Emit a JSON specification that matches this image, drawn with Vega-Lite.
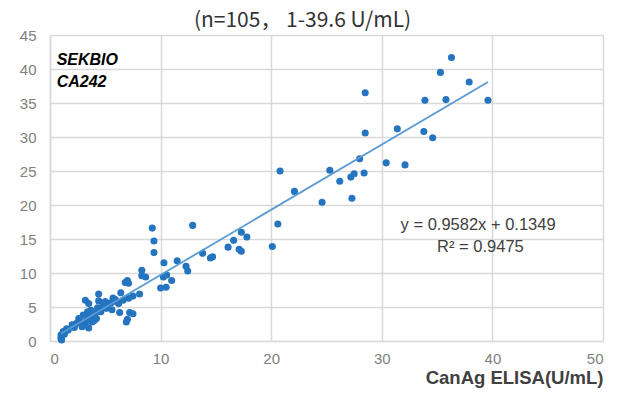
{
  "$schema": "https://vega.github.io/schema/vega-lite/v6.json",
  "width": 553,
  "height": 306,
  "autosize": "none",
  "padding": {"left": 50, "top": 35, "right": 28, "bottom": 65},
  "background": "white",
  "config": {"view": {"stroke": null}},
  "title": {"text": "(n=105， 1-39.6 U/mL)", "font": "Noto Sans CJK SC", "fontSize": 21, "fontWeight": "normal", "color": "#333333", "anchor": "middle", "dx": -24, "offset": -3},
  "datasets": {
    "pts": [
      {"x":36.3,"y":41.7},{"x":35.3,"y":39.5},{"x":37.9,"y":38.1},{"x":28.5,"y":36.5},{"x":33.9,"y":35.4},
      {"x":35.8,"y":35.5},{"x":39.6,"y":35.4},{"x":31.4,"y":31.2},{"x":33.8,"y":30.8},{"x":34.6,"y":29.9},
      {"x":28.5,"y":30.6},{"x":28.0,"y":26.8},{"x":25.3,"y":25.1},{"x":30.4,"y":26.2},{"x":32.1,"y":25.9},
      {"x":26.2,"y":23.5},{"x":27.2,"y":24.1},{"x":27.5,"y":24.6},{"x":28.4,"y":24.7},{"x":27.3,"y":21.0},
      {"x":24.6,"y":20.4},{"x":20.8,"y":25.0},{"x":22.1,"y":22.0},{"x":20.6,"y":17.2},{"x":20.1,"y":13.9},
      {"x":17.3,"y":16.0},{"x":17.8,"y":15.3},{"x":16.6,"y":14.8},{"x":16.1,"y":13.8},{"x":17.1,"y":13.5},
      {"x":17.3,"y":13.2},{"x":13.8,"y":12.9},{"x":14.7,"y":12.4},{"x":14.5,"y":12.2},{"x":9.25,"y":16.6},
      {"x":9.4,"y":14.7},{"x":9.4,"y":13.0},{"x":12.9,"y":17.0},{"x":10.3,"y":11.5},{"x":11.5,"y":11.8},
      {"x":12.3,"y":11.0},{"x":12.45,"y":10.3},{"x":8.3,"y":10.4},{"x":8.3,"y":9.6},{"x":8.65,"y":9.4},
      {"x":10.25,"y":9.4},{"x":10.55,"y":9.7},{"x":11.0,"y":8.9},{"x":10.0,"y":7.8},{"x":10.5,"y":7.9},
      {"x":7.0,"y":8.9},{"x":7.1,"y":8.5},{"x":6.4,"y":7.1},{"x":8.1,"y":6.9},{"x":7.5,"y":6.6},
      {"x":7.1,"y":6.3},{"x":5.7,"y":6.3},{"x":5.5,"y":5.6},{"x":6.3,"y":4.2},{"x":7.2,"y":4.2},
      {"x":7.5,"y":4.0},{"x":7.0,"y":3.2},{"x":6.8,"y":8.6},{"x":4.4,"y":6.9},{"x":4.4,"y":5.9},
      {"x":3.2,"y":6.0},{"x":3.5,"y":5.5},{"x":5.9,"y":6.1},{"x":5.3,"y":5.5},{"x":5.1,"y":4.8},
      {"x":5.6,"y":4.6},{"x":6.9,"y":2.8},{"x":4.1,"y":4.1},{"x":4.2,"y":3.3},{"x":3.5,"y":3.8},
      {"x":3.3,"y":3.1},{"x":3.8,"y":2.8},{"x":3.2,"y":2.4},{"x":2.6,"y":3.3},{"x":2.4,"y":2.6},
      {"x":2.9,"y":2.1},{"x":2.0,"y":2.4},{"x":1.65,"y":1.6},{"x":1.2,"y":1.4},{"x":1.0,"y":0.9},
      {"x":1.05,"y":0.15},{"x":1.0,"y":0.5},{"x":3.5,"y":1.9},{"x":3.7,"y":4.5},{"x":3.9,"y":3.5},
      {"x":4.3,"y":4.9},{"x":4.6,"y":4.3},{"x":4.8,"y":5.2},{"x":6.0,"y":5.8},{"x":6.6,"y":6.0},
      {"x":3.0,"y":3.8},{"x":2.2,"y":2.0},{"x":1.3,"y":1.0},{"x":1.0,"y":0.3},{"x":4.0,"y":3.0},
      {"x":5.0,"y":5.8},{"x":6.2,"y":5.5},{"x":3.4,"y":4.3},{"x":1.5,"y":1.8},{"x":2.7,"y":2.9}
    ],
    "trend": [{"x": 1.0, "y": 1.09}, {"x": 39.6, "y": 38.08}],
    "brand": [{"x": 0.6, "y": 41.3, "t": "SEKBIO"}, {"x": 0.6, "y": 38.1, "t": "CA242"}],
    "eq": [{"x": 31.7, "y": 17.0, "t": "y = 0.9582x + 0.1349"}, {"x": 35.0, "y": 13.8, "t": "R² = 0.9475"}]
  },
  "encoding": {
    "x": {"field": "x", "type": "quantitative", "scale": {"domain": [0, 50], "nice": false},
      "axis": {"values": [0,10,20,30,40,50], "title": "CanAg ELISA(U/mL)", "titleAnchor": "end", "titleAlign": "right", "titleFont": "Liberation Sans", "titleFontSize": 18.5, "titleFontWeight": "bold", "titleColor": "#404040", "titlePadding": 2,
        "labelFont": "Liberation Sans", "labelFontSize": 15, "labelColor": "#7f7f7f", "labelPadding": 10, "ticks": false, "labelOverlap": false,
        "grid": true, "gridColor": "#d9d9d9", "gridWidth": 1.5, "domainColor": "#d9d9d9", "domainDash": [2, 2], "domainWidth": 1.5}},
    "y": {"field": "y", "type": "quantitative", "scale": {"domain": [0, 45], "nice": false},
      "axis": {"values": [0,5,10,15,20,25,30,35,40,45], "tickCount": 10, "title": null,
        "labelFont": "Liberation Sans", "labelFontSize": 15, "labelColor": "#7f7f7f", "labelPadding": 14, "ticks": false, "labelOverlap": false,
        "grid": true, "gridColor": "#d9d9d9", "gridWidth": 1.5, "domainColor": "#d9d9d9", "domainWidth": 1.5}}
  },
  "layer": [
    {
      "data": {"name": "pts"},
      "mark": {"type": "circle", "size": 50, "color": "#2474c0", "opacity": 1}
    },
    {
      "data": {"name": "trend"},
      "mark": {"type": "line", "color": "#5b9bd5", "strokeWidth": 1.8}
    },
    {
      "data": {"name": "brand"},
      "mark": {"type": "text", "align": "left", "baseline": "middle", "font": "Liberation Sans", "fontSize": 16, "fontWeight": "bold", "fontStyle": "italic", "color": "#000000"},
      "encoding": {"text": {"field": "t"}}
    },
    {
      "data": {"name": "eq"},
      "mark": {"type": "text", "align": "left", "baseline": "middle", "font": "Liberation Sans", "fontSize": 16.5, "color": "#404040"},
      "encoding": {"text": {"field": "t"}}
    }
  ]
}
